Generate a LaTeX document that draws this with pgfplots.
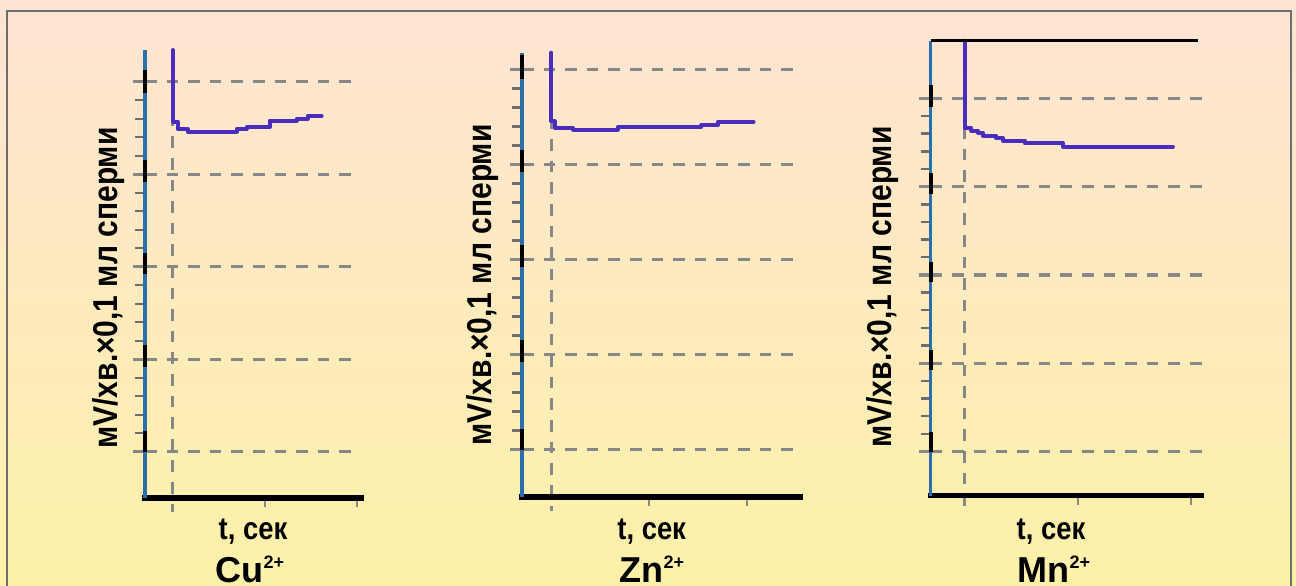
\documentclass[border=0pt]{standalone}
\usepackage{fontspec}
\setmainfont{Liberation Sans}
\usepackage{pgfplots}
\pgfplotsset{compat=1.18}
\definecolor{bgtop}{RGB}{255,228,212}
\definecolor{bgbot}{RGB}{253,241,168}
\definecolor{axblue}{RGB}{42,110,170}
\definecolor{curvec}{RGB}{75,45,190}
\definecolor{gridg}{RGB}{135,135,135}
\definecolor{tickg}{RGB}{110,110,110}
\definecolor{frameg}{RGB}{110,110,110}
\pgfplotsset{panel/.style={
  scale only axis, anchor=south west,
  xmin=-0.3, ymin=0.5,
  axis line style={draw=none},
  ytick={1,2,3,4,5}, minor y tick num=4,
  xtick={1,2},
  xticklabels={}, yticklabels={},
  tick pos=left,
  tick align=outside,
  major tick length=6pt, minor tick length=5pt,
  every tick/.style={tickg},
  major tick style={gridg, line width=1.7pt},
  minor tick style={line width=1.2pt},
  xtick style={/pgfplots/major tick length=4.5pt, line width=1.2pt},
  ymajorgrids,
  major grid style={gridg, line width=1.7pt, dash pattern=on 5.8pt off 5pt},
  clip=false,
}}
\tikzset{
  vdash/.style={gridg, line width=1.7pt, dash pattern=on 5.8pt off 5pt},
  crv/.style={curvec, line width=2pt, line join=round, line cap=round},
  baseax/.style={black, line width=2.6pt, line cap=rect},
  yax/.style={axblue, line width=1.6pt},
  blk/.style={black, line width=1.8pt},
}
\newcommand{\ylab}{\scalebox{1}[1.15]{\fontsize{15}{17}\selectfont\bfseries мV/хв.×0,1 мл сперми}}
\newcommand{\tlab}{\scalebox{1}[1.15]{\fontsize{13.7}{16}\selectfont\bfseries t, сек}}
\newcommand{\el}[1]{\fontsize{18}{20}\selectfont\bfseries #1\raisebox{6.6pt}{\fontsize{9}{10}\selectfont 2+}}
\begin{document}
\begin{tikzpicture}
\useasboundingbox (0,0) rectangle (648pt,292.5pt);
\shade[top color=bgtop, bottom color=bgbot] (0,0) rectangle (648pt,292.5pt);
\draw[frameg, line width=1pt] (3.5pt,-2pt) -- (3.5pt,287pt) -- (645.5pt,287pt) -- (645.5pt,-2pt);

% Cu
\begin{axis}[panel, at={(72.5pt,43.5pt)}, width=108pt, height=224pt, xmax=2.043, ymax=5.343]
\draw[vdash] (axis cs:0,5.343) -- ([yshift=-7pt]axis cs:0,0.5);
\addplot[crv] coordinates {(0,5.343) (0,4.57) (0.054,4.57) (0.054,4.49) (0.163,4.49) (0.163,4.46) (0.694,4.46) (0.694,4.49) (0.803,4.49) (0.803,4.51) (1.052,4.51) (1.052,4.58) (1.345,4.58) (1.345,4.60) (1.464,4.60) (1.464,4.63) (1.616,4.63)};
\draw[baseax] (rel axis cs:0,0) -- (rel axis cs:1,0);
\draw[yax] (rel axis cs:0,0) -- (rel axis cs:0,1);
\draw[blk] (axis cs:-0.3,1.0) -- (axis cs:-0.3,1.22);
\draw[blk] (axis cs:-0.3,1.92) -- (axis cs:-0.3,2.15);
\draw[blk] (axis cs:-0.3,2.92) -- (axis cs:-0.3,3.15);
\draw[blk] (axis cs:-0.3,3.92) -- (axis cs:-0.3,4.15);
\draw[blk] (axis cs:-0.3,4.88) -- (axis cs:-0.3,5.13);
\end{axis}

% Zn
\begin{axis}[panel, at={(261pt,44pt)}, width=139pt, height=222.15pt, xmax=2.543, ymax=5.177]
\draw[vdash] (axis cs:0,5.177) -- ([yshift=-7pt]axis cs:0,0.5);
\addplot[crv] coordinates {(0,5.177) (0,4.456) (0.034,4.456) (0.034,4.386) (0.221,4.386) (0.221,4.368) (0.681,4.368) (0.681,4.393) (1.534,4.393) (1.534,4.414) (1.703,4.414) (1.703,4.449) (2.068,4.449)};
\draw[baseax] (rel axis cs:0,0) -- (rel axis cs:1,0);
\draw[yax] (rel axis cs:0,0) -- (rel axis cs:0,1);
\draw[blk] (axis cs:-0.3,1.0) -- (axis cs:-0.3,1.22);
\draw[blk] (axis cs:-0.3,1.92) -- (axis cs:-0.3,2.15);
\draw[blk] (axis cs:-0.3,2.92) -- (axis cs:-0.3,3.15);
\draw[blk] (axis cs:-0.3,3.92) -- (axis cs:-0.3,4.15);
\draw[blk] (axis cs:-0.3,4.9) -- (axis cs:-0.3,5.15);
\end{axis}

% Mn
\begin{axis}[panel, at={(465.35pt,44.65pt)}, width=135.5pt, height=227.5pt, xmax=2.092, ymax=5.653]
\draw[vdash] (axis cs:0,5.653) -- ([yshift=-7pt]axis cs:0,0.5);
\addplot[crv] coordinates {(0,5.653) (0,4.661) (0.059,4.661) (0.059,4.635) (0.117,4.635) (0.117,4.613) (0.162,4.613) (0.162,4.579) (0.280,4.579) (0.280,4.548) (0.338,4.548) (0.338,4.522) (0.530,4.522) (0.530,4.491) (0.868,4.491) (0.868,4.454) (1.838,4.454)};
\draw[baseax] (rel axis cs:0,0) -- (rel axis cs:1,0);
\draw[yax] (rel axis cs:0,0) -- (rel axis cs:0,1);
\draw[blk] (rel axis cs:0,1) -- (rel axis cs:0.987,1);
\draw[blk] (axis cs:-0.3,1.0) -- (axis cs:-0.3,1.22);
\draw[blk] (axis cs:-0.3,1.92) -- (axis cs:-0.3,2.15);
\draw[blk] (axis cs:-0.3,2.92) -- (axis cs:-0.3,3.15);
\draw[blk] (axis cs:-0.3,3.92) -- (axis cs:-0.3,4.15);
\draw[blk] (axis cs:-0.3,4.9) -- (axis cs:-0.3,5.15);
\end{axis}

\node[rotate=90, anchor=center] at (54.5pt,148.5pt) {\ylab};
\node[rotate=90, anchor=center] at (241.5pt,150pt) {\ylab};
\node[rotate=90, anchor=center] at (441.25pt,149pt) {\ylab};
\node[anchor=base, inner sep=0pt] at (126.5pt,22.75pt) {\tlab};
\node[anchor=base, inner sep=0pt] at (325.85pt,22.75pt) {\tlab};
\node[anchor=base, inner sep=0pt] at (525.5pt,22.75pt) {\tlab};
\node[anchor=base, inner sep=0pt] at (125pt,1.5pt) {\el{Cu}};
\node[anchor=base, inner sep=0pt] at (326pt,1.5pt) {\el{Zn}};
\node[anchor=base, inner sep=0pt] at (527pt,1.5pt) {\el{Mn}};
\end{tikzpicture}
\end{document}
